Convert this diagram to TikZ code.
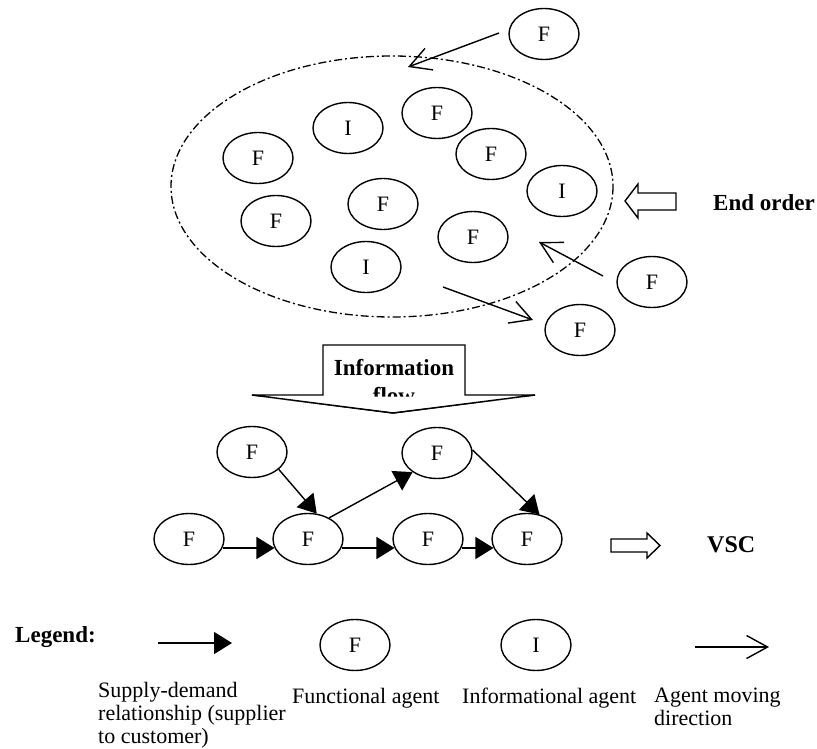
\documentclass[tikz,border=0pt]{standalone}
\usepackage{fontspec}
\setmainfont{Liberation Serif}
\usetikzlibrary{shapes.geometric,arrows.meta}
\begin{document}
\begin{tikzpicture}[x=1pt,y=-1pt,
  agent/.style={ellipse,draw,line width=1.4pt,minimum width=70pt,minimum height=51pt,inner sep=0pt,font=\fontsize{22}{24}\selectfont},
  supply/.style={line width=1.4pt,-{Triangle[length=18pt,width=22pt]}},
  move/.style={line width=1.4pt,-{Straight Barb[length=21pt,width=23pt,line width=1.4pt]}},
  lbl/.style={font=\fontsize{22}{23}\selectfont,inner sep=0pt,align=left,anchor=north west},
  boldtxt/.style={font=\fontsize{23}{25}\selectfont\bfseries,inner sep=0pt},
  hollow/.style={draw,line width=1.4pt,fill=white,line join=miter},
  dashdotline/.style={line width=1.3pt,dash pattern=on 8pt off 3pt on 2pt off 3pt}
]
\fill[white] (0,0) rectangle (817,749);
\useasboundingbox (0,0) rectangle (817,749);

% ---- top cloud ----
\draw[dashdotline] (392,186.5) ellipse [x radius=221, y radius=130.5];
\node[agent] (tf) at (544,34) {F};
\node[agent] (a1) at (348,128) {I};
\node[agent] (a2) at (437,113) {F};
\node[agent] (a3) at (258,158) {F};
\node[agent] (a4) at (491,154) {F};
\node[agent] (a5) at (562,191) {I};
\node[agent] (a6) at (383,204) {F};
\node[agent] (a7) at (276,221) {F};
\node[agent] (a8) at (473,237) {F};
\node[agent] (a9) at (366,267) {I};
\node[agent] (rf) at (652,282) {F};
\node[agent] (bf) at (580,330) {F};

\coordinate (m1s) at (499,33); \coordinate (m1e) at (408,67);
\coordinate (m2s) at (603,276); \coordinate (m2e) at (539,242);
\coordinate (m3s) at (443,287); \coordinate (m3e) at (533,320);
\draw[move] (m1s) -- (m1e);
\draw[move] (m2s) -- (m2e);
\draw[move] (m3s) -- (m3e);

% End order
\draw[hollow] (676,193) -- (638,193) -- (638,184) -- (625,201) -- (638,218) -- (638,210) -- (676,210) -- cycle;
\node[boldtxt,anchor=west] (eo) at (713,203) {End order};

% ---- information flow ----
\draw[hollow] (252,395) -- (323,395) -- (323,345) -- (465,345) -- (465,395) -- (535,395) -- (393,413) -- cycle;
\node[boldtxt,anchor=base] (info) at (394,375) {Information};
\node[boldtxt,anchor=base] (flow) at (394,403) {flow};
\fill[white] (253,396.5) -- (534,396.5) -- (393,412) -- cycle;
\draw[line width=1.4pt,line join=miter] (252,395) -- (393,413) -- (535,395);

% ---- VSC graph ----
\node[agent] (g1) at (189,539) {F};
\node[agent] (g2) at (308,539) {F};
\node[agent] (g3) at (428,539) {F};
\node[agent] (g4) at (527,539) {F};
\node[agent] (g5) at (252,452) {F};
\node[agent] (g6) at (437,453) {F};
\draw[supply] (g1.-15) -- (g2.195);
\draw[supply] (g2.-15) -- (g3.195);
\draw[supply] (g3.-15) -- (g4.195);
\draw[supply] (g5.-33) -- (g2.71);
\draw[supply] (g2.45) -- (g6.218);
\draw[supply] (g6.5) -- (g4.63);

\draw[hollow] (611,539) -- (647,539) -- (647,533) -- (660,545.5) -- (647,558) -- (647,552) -- (611,552) -- cycle;
\node[boldtxt,anchor=west,font=\fontsize{24}{26}\selectfont\bfseries] (vsc) at (707,545) {VSC};

% ---- legend ----
\node[boldtxt,anchor=west] (leg) at (15,637) {Legend:};
\coordinate (l1s) at (158,643); \coordinate (l1e) at (232,643);
\draw[supply] (l1s) -- (l1e);
\node[agent] (lf) at (355,645) {F};
\node[agent] (li) at (536,645) {I};
\coordinate (l2s) at (695,647); \coordinate (l2e) at (769,647);
\draw[move] (l2s) -- (l2e);
\node[lbl] (t1) at (98,682) {Supply-demand\\relationship (supplier\\to customer)};
\node[lbl] (t2) at (292,688) {Functional agent};
\node[lbl] (t3) at (462,688) {Informational agent};
\node[lbl] (t4) at (654,688) {Agent moving\\direction};
\end{tikzpicture}
\end{document}
